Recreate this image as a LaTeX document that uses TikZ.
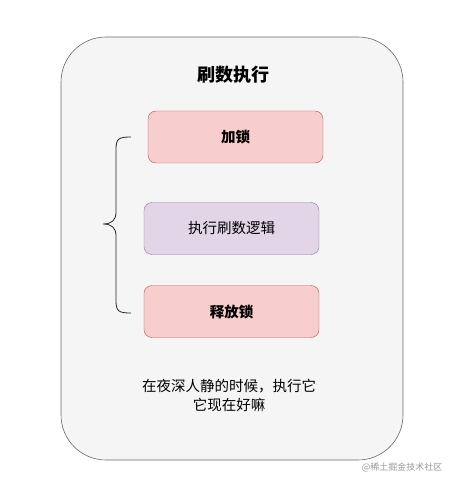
\documentclass[tikz,border=0pt]{standalone}
\usepackage{fontspec}
\setmainfont{Noto Sans CJK SC}
\usetikzlibrary{positioning}
\definecolor{outerFill}{HTML}{F5F5F5}
\definecolor{outerLine}{HTML}{666666}
\definecolor{redFill}{HTML}{F8CECC}
\definecolor{redLine}{HTML}{B85450}
\definecolor{purpleFill}{HTML}{E1D5E7}
\definecolor{purpleLine}{HTML}{9673A6}

\begin{document}
\begin{tikzpicture}[x=1pt, y=-1pt,
    lockbox/.style={draw=redLine, fill=redFill, rounded corners=8pt, minimum width=175pt, minimum height=52pt, font=\fontsize{14.5}{16}\selectfont\bfseries},
    logicbox/.style={draw=purpleLine, fill=purpleFill, rounded corners=8pt, minimum width=175pt, minimum height=52pt, font=\fontsize{14.5}{16}\selectfont}]
    \useasboundingbox (0,0) rectangle (450,478);
    \draw[outerLine, fill=outerFill, semithick, rounded corners=45pt] (61,37) rectangle (403,460);

    \node[font=\fontsize{18}{20}\selectfont\bfseries] (title) at (233,75) {刷数执行};
    \node[lockbox] (lock) at (235.5,137) {加锁};
    \node[logicbox] (logic) at (231.5,228.5) {执行刷数逻辑};
    \node[lockbox] (unlock) at (231.5,311.5) {释放锁};

    % curly bracket on the left
    \coordinate (bTop) at (131,137);
    \coordinate (bTip) at (103,224);
    \coordinate (bBot) at (131,313);
    \draw[black!85, thick] (bTop) .. controls (118,137) and (116,139) .. (116,150)
        -- (116,212) .. controls (116,220) and (112,224) .. (bTip)
        .. controls (112,224) and (116,228) .. (116,236)
        -- (116,300) .. controls (116,311) and (118,313) .. (bBot);

    \node[font=\fontsize{14.5}{19}\selectfont, align=center] (note) at (229,395) {在夜深人静的时候，执行它\\它现在好嘛};
    \node[font=\fontsize{9}{10}\selectfont, text=black!40, anchor=east] (mark) at (446,467) {@稀土掘金技术社区};
\end{tikzpicture}
\end{document}
